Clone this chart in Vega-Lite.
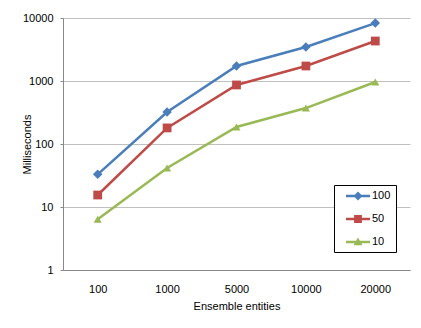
{
  "$schema": "https://vega.github.io/schema/vega-lite/v6.json",
  "autosize": "none",
  "width": 347,
  "height": 252,
  "padding": {"left": 63, "top": 18, "right": 11, "bottom": 58},
  "background": "#ffffff",
  "config": {
    "font": "Liberation Sans",
    "view": {"stroke": null},
    "axis": {"labelFont": "Liberation Sans", "titleFont": "Liberation Sans", "labelFontSize": 11, "titleFontSize": 11, "titleFontWeight": "normal", "labelColor": "#000", "titleColor": "#000"}
  },
  "data": {
    "values": [
      {"entities": "100", "series": "100", "ms": 33},
      {"entities": "1000", "series": "100", "ms": 322},
      {"entities": "5000", "series": "100", "ms": 1730},
      {"entities": "10000", "series": "100", "ms": 3467},
      {"entities": "20000", "series": "100", "ms": 8300},
      {"entities": "100", "series": "50", "ms": 15.5},
      {"entities": "1000", "series": "50", "ms": 180},
      {"entities": "5000", "series": "50", "ms": 865},
      {"entities": "10000", "series": "50", "ms": 1730},
      {"entities": "20000", "series": "50", "ms": 4310},
      {"entities": "100", "series": "10", "ms": 6.4},
      {"entities": "1000", "series": "10", "ms": 41.6},
      {"entities": "5000", "series": "10", "ms": 186},
      {"entities": "10000", "series": "10", "ms": 372},
      {"entities": "20000", "series": "10", "ms": 965}
    ]
  },
  "encoding": {
    "x": {
      "field": "entities", "type": "ordinal",
      "sort": ["100", "1000", "5000", "10000", "20000"],
      "scale": {"type": "point", "padding": 0.5},
      "axis": {"title": "Ensemble entities", "labelAngle": 0, "ticks": false, "tickSize": 0, "labelPadding": 13, "titlePadding": 6, "domainColor": "#888888", "grid": false}
    },
    "y": {
      "field": "ms", "type": "quantitative",
      "scale": {"type": "log", "domain": [1, 10000], "nice": false},
      "axis": {"title": "Milliseconds", "values": [1, 10, 100, 1000, 10000], "format": "d", "tickSize": 3, "tickColor": "#888888", "labelPadding": 7, "domainColor": "#888888", "gridColor": "#c0c0c0", "titleX": -36, "titleY": 126, "titleAlign": "center", "titleBaseline": "middle", "titleAngle": -90}
    }
  },
  "resolve": {"legend": {"color": "independent", "shape": "independent", "size": "independent"}},
  "layer": [
    {
      "mark": {"type": "line", "strokeWidth": 2.5},
      "encoding": {
        "color": {
          "field": "series", "type": "nominal",
          "scale": {"domain": ["100", "50", "10"], "range": ["#4A7EBB", "#BE4B48", "#98B954"]},
          "legend": {
            "orient": "none", "legendX": 271, "legendY": 167, "title": null,
            "symbolSize": 144, "symbolStrokeWidth": 0, "symbolOpacity": 1,
            "padding": 5, "rowPadding": 12, "symbolOffset": 13, "labelOffset": 8,
            "strokeColor": "#000000", "fillColor": "#ffffff",
            "labelFontSize": 11, "labelFont": "Liberation Sans", "labelColor": "#000000",
            "encode": {
              "symbols": {
                "update": {
                  "shape": {"signal": "datum.value === '100' ? 'M-2,-0.2H2V0.2H-2Z M0,-0.75L0.75,0L0,0.75L-0.75,0Z' : datum.value === '50' ? 'M-2,-0.2H2V0.2H-2Z M-0.65,-0.65H0.65V0.65H-0.65Z' : 'M-2,-0.2H2V0.2H-2Z M0,-0.75L0.75,0.55H-0.75Z'"},
                  "fill": {"scale": "color", "field": "value"},
                  "strokeWidth": {"value": 0}
                }
              }
            }
          }
        }
      }
    },
    {
      "mark": {"type": "point", "filled": true, "opacity": 1},
      "encoding": {
        "color": {"field": "series", "type": "nominal", "legend": null},
        "shape": {"field": "series", "type": "nominal", "scale": {"domain": ["100", "50", "10"], "range": ["diamond", "square", "triangle-up"]}, "legend": null},
        "size": {"field": "series", "type": "nominal", "scale": {"domain": ["100", "50", "10"], "range": [90, 64, 81]}, "legend": null}
      }
    }
  ]
}
